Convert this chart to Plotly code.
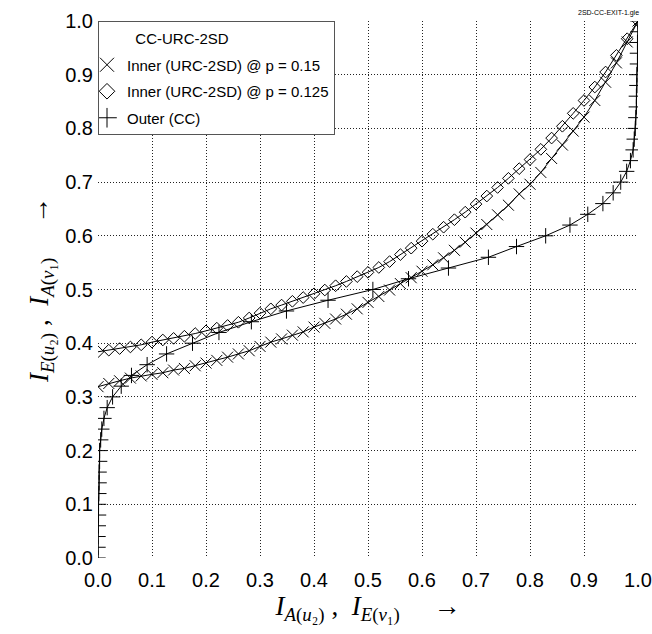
import plotly.graph_objects as go

# ---- data ----
x_inner = [round(i * 0.02, 2) for i in range(51)]

y_inner_p150 = [0.319, 0.325, 0.330, 0.335, 0.339, 0.342, 0.345, 0.350, 0.353, 0.358,
                0.363, 0.368, 0.374, 0.380, 0.386, 0.394, 0.402, 0.408, 0.415, 0.421,
                0.430, 0.437, 0.445, 0.454, 0.464, 0.476, 0.487, 0.499, 0.511, 0.522,
                0.534, 0.546, 0.559, 0.573, 0.588, 0.605, 0.621, 0.639, 0.657, 0.678,
                0.696, 0.718, 0.744, 0.769, 0.795, 0.821, 0.852, 0.886, 0.922, 0.961,
                1.000]

y_inner_p125 = [0.384, 0.387, 0.390, 0.393, 0.397, 0.402, 0.406, 0.409, 0.413, 0.418,
                0.423, 0.428, 0.433, 0.439, 0.447, 0.456, 0.464, 0.471, 0.478, 0.485,
                0.492, 0.499, 0.507, 0.515, 0.524, 0.532, 0.541, 0.552, 0.565, 0.577,
                0.590, 0.603, 0.616, 0.630, 0.644, 0.659, 0.674, 0.690, 0.707, 0.725,
                0.742, 0.761, 0.782, 0.804, 0.828, 0.852, 0.877, 0.905, 0.936, 0.967,
                1.000]

y_outer = [round(i * 0.02, 2) for i in range(51)]
x_outer = [0.000, 0.000, 0.000, 0.0005, 0.001, 0.001, 0.0015, 0.002, 0.002, 0.003,
           0.003, 0.005, 0.007, 0.011, 0.017, 0.027, 0.043, 0.062, 0.091, 0.127,
           0.175, 0.224, 0.284, 0.349, 0.426, 0.509, 0.575, 0.649, 0.723, 0.775,
           0.829, 0.874, 0.907, 0.935, 0.954, 0.968, 0.979, 0.986, 0.991, 0.993,
           0.995, 0.996, 0.997, 0.997, 0.998, 0.998, 0.999, 0.999, 0.999, 1.000,
           1.000]

ticks = [round(i * 0.1, 1) for i in range(11)]
tick_text = [f"{t:.1f}" for t in ticks]

legend_title = "CC-URC-2SD"
names = ["Inner (URC-2SD) @ p = 0.15", "Inner (URC-2SD) @ p = 0.125", "Outer (CC)"]

# ---- figure ----
fig = go.Figure()
line_style = dict(color="black", width=1)
SANS = "Liberation Sans, Arial"
SERIF = "Liberation Serif, Times New Roman"
NB = "\u00a0"

fig.add_trace(go.Scatter(x=x_inner, y=y_inner_p150, mode="lines+markers", line=line_style,
                         marker=dict(symbol="x-thin-open", size=11, color="black",
                                     line=dict(color="black", width=1)),
                         showlegend=False))
fig.add_trace(go.Scatter(x=x_inner, y=y_inner_p125, mode="lines+markers", line=line_style,
                         marker=dict(symbol="diamond-open", size=9, color="black",
                                     line=dict(color="black", width=1)),
                         showlegend=False))
fig.add_trace(go.Scatter(x=x_outer, y=y_outer, mode="lines+markers", line=line_style,
                         marker=dict(symbol="cross-thin-open", size=11, color="black",
                                     line=dict(color="black", width=1)),
                         showlegend=False))

# legend-only entries (marker only)
fig.add_trace(go.Scatter(x=[None], y=[None], mode="markers", name=NB * 2 + legend_title,
                         legendgroup="g0",
                         marker=dict(size=1, color="rgba(0,0,0,0)")))
fig.add_trace(go.Scatter(x=[None], y=[None], mode="markers", name=names[0],
                         legendgroup="g1",
                         marker=dict(symbol="x-thin-open", size=14, color="black",
                                     line=dict(color="black", width=1))))
fig.add_trace(go.Scatter(x=[None], y=[None], mode="markers", name=names[1],
                         legendgroup="g2",
                         marker=dict(symbol="diamond-open", size=12, color="black",
                                     line=dict(color="black", width=1))))
fig.add_trace(go.Scatter(x=[None], y=[None], mode="markers", name=names[2],
                         legendgroup="g3",
                         marker=dict(symbol="cross-thin-open", size=14, color="black",
                                     line=dict(color="black", width=1))))

axis_common = dict(range=[0, 1], tickvals=ticks, ticktext=tick_text,
                   showgrid=True, gridcolor="#222222", gridwidth=1, griddash="1px,2px",
                   zeroline=False, showline=False, ticks="", automargin=False,
                   tickfont=dict(family=SANS, size=20, color="black"))

x_title = ("<i>I</i><sub><i>A</i>(<i>u</i>₂)</sub>" + NB + "," + NB * 2 +
           "<i>I</i><sub><i>E</i>(<i>v</i>₁)</sub>" + NB * 5 + "→")
y_title = ("<i>I</i><sub><i>E</i>(<i>u</i>₂)</sub>" + NB + "," + NB * 2 +
           "<i>I</i><sub><i>A</i>(<i>v</i>₁)</sub>" + NB * 5 + "→")

fig.update_xaxes(**axis_common, ticklabelstandoff=8,
                 title=dict(text=x_title, standoff=6,
                            font=dict(family=SERIF, size=27, color="black")))
fig.update_yaxes(**axis_common, ticklabelstandoff=4,
                 title=dict(text=y_title, standoff=8,
                            font=dict(family=SERIF, size=27, color="black")))

fig.add_annotation(text="2SD-CC-EXIT-1.gle", xref="paper", yref="paper", x=0.946, y=1.0,
                   xanchor="center", yanchor="bottom", showarrow=False, yshift=2,
                   font=dict(family=SANS, size=7, color="black"))

fig.update_layout(
    width=652, height=634,
    margin=dict(l=98, r=14, t=21, b=76),
    plot_bgcolor="white", paper_bgcolor="white",
    showlegend=True,
    legend=dict(x=0, y=1, xanchor="left", yanchor="top",
                bgcolor="white", bordercolor="#555555", borderwidth=1,
                font=dict(family=SANS, size=15, color="black"),
                itemwidth=30, tracegroupgap=4, indentation=-12),
)

fig.write_html("out.html")
